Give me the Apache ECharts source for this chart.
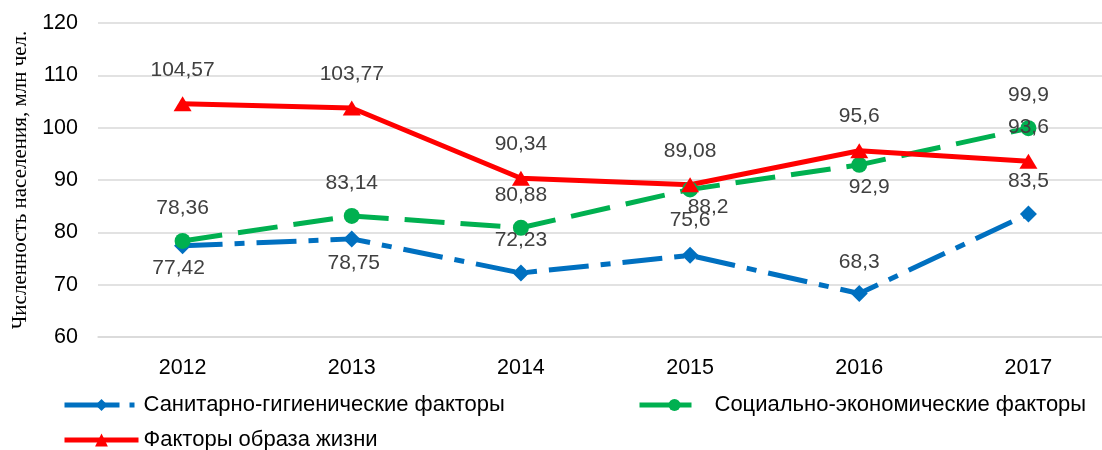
<!DOCTYPE html>
<html>
<head>
<meta charset="utf-8">
<script src="https://cdn.jsdelivr.net/npm/echarts@6/dist/echarts.min.js"></script>
<style>
  html, body { margin: 0; padding: 0; background: #fff; }
  #chart { width: 1102px; height: 450px; }
</style>
</head>
<body>
<div id="chart"></div>
<script>
const years = ['2012', '2013', '2014', '2015', '2016', '2017'];
const yTicks = { min: 60, max: 120, step: 10 };

const sanitary = [77.42, 78.75, 72.23, 75.6, 68.3, 83.5];
const socioEconomic = [78.36, 83.14, 80.88, 88.2, 92.9, 99.9];
const lifestyle = [104.57, 103.77, 90.34, 89.08, 95.6, 93.6];

const seriesNames = [
  'Санитарно-гигиенические факторы',
  'Социально-экономические факторы',
  'Факторы образа жизни'
];

// label shifts from the point centre, [dx, dy]
const sanitaryShift = [[-4, 22], [2, 24], [0, -33], [0, -35], [0, -31], [0, -33]];
const socioShift = [[0, -33], [0, -33], [0, -33], [18, 18], [10, 22], [0, -33]];
const lifestyleShift = [[0, -34], [0, -34], [0, -34], [0, -34], [0, -34], [0, -34]];

const labelFont = 'Liberation Sans';

function withLabels(values, shifts) {
  return values.map(function (v, i) {
    return {
      value: v,
      label: { position: 'inside', offset: shifts[i] }
    };
  });
}

const chart = echarts.init(document.getElementById('chart'));

const baseLabel = {
  show: true,
  color: '#404040',
  fontSize: 21,
  fontFamily: labelFont,
  formatter: function (p) { return String(p.value).replace('.', ','); }
};

const legendText = { fontSize: 22, color: '#000', fontFamily: labelFont };

const option = {
  animation: false,
  grid: { left: 98, width: 1015, top: 23, bottom: 113, outerBoundsMode: 'none' },
  legend: [
    {
      data: [seriesNames[0]], left: 57, top: 389,
      itemWidth: 74, itemHeight: 15,
      lineStyle: { width: 5, type: [55, 10, 5, 10] },
      textStyle: legendText
    },
    {
      data: [seriesNames[1]], left: 632, top: 389,
      itemWidth: 70, itemHeight: 15,
      lineStyle: { width: 5, type: [52, 30] },
      textStyle: legendText
    },
    {
      data: [seriesNames[2]], left: 57, top: 424,
      itemWidth: 74, itemHeight: 16,
      lineStyle: { width: 5 },
      textStyle: legendText
    }
  ],
  xAxis: {
    type: 'category',
    data: years,
    boundaryGap: true,
    axisLine: { show: true, lineStyle: { color: '#d9d9d9', width: 1.5 } },
    axisTick: { show: false },
    axisLabel: { color: '#000', fontSize: 21.5, fontFamily: labelFont, margin: 20 }
  },
  yAxis: {
    type: 'value',
    min: yTicks.min,
    max: yTicks.max,
    interval: yTicks.step,
    name: 'Численность населения, млн чел.',
    nameLocation: 'middle',
    nameGap: 62,
    nameTextStyle: { fontFamily: 'Liberation Serif', fontSize: 21, color: '#000' },
    axisLine: { show: false },
    axisTick: { show: false },
    axisLabel: { color: '#000', fontSize: 21.5, fontFamily: labelFont, margin: 20 },
    splitLine: { lineStyle: { color: '#d9d9d9', width: 1.5 } }
  },
  series: [
    {
      name: seriesNames[0],
      type: 'line',
      data: withLabels(sanitary, sanitaryShift),
      symbol: 'diamond',
      symbolSize: 17,
      itemStyle: { color: '#0070c0' },
      lineStyle: { color: '#0070c0', width: 5, type: [40, 12, 10, 12] },
      label: baseLabel
    },
    {
      name: seriesNames[1],
      type: 'line',
      data: withLabels(socioEconomic, socioShift),
      symbol: 'circle',
      symbolSize: 16,
      itemStyle: { color: '#00b050' },
      lineStyle: { color: '#00b050', width: 5, type: [40, 16] },
      label: baseLabel
    },
    {
      name: seriesNames[2],
      type: 'line',
      data: withLabels(lifestyle, lifestyleShift),
      symbol: 'triangle',
      symbolSize: [18, 15],
      itemStyle: { color: '#ff0000' },
      lineStyle: { color: '#ff0000', width: 5 },
      label: baseLabel
    }
  ]
};

chart.setOption(option);
</script>
</body>
</html>
